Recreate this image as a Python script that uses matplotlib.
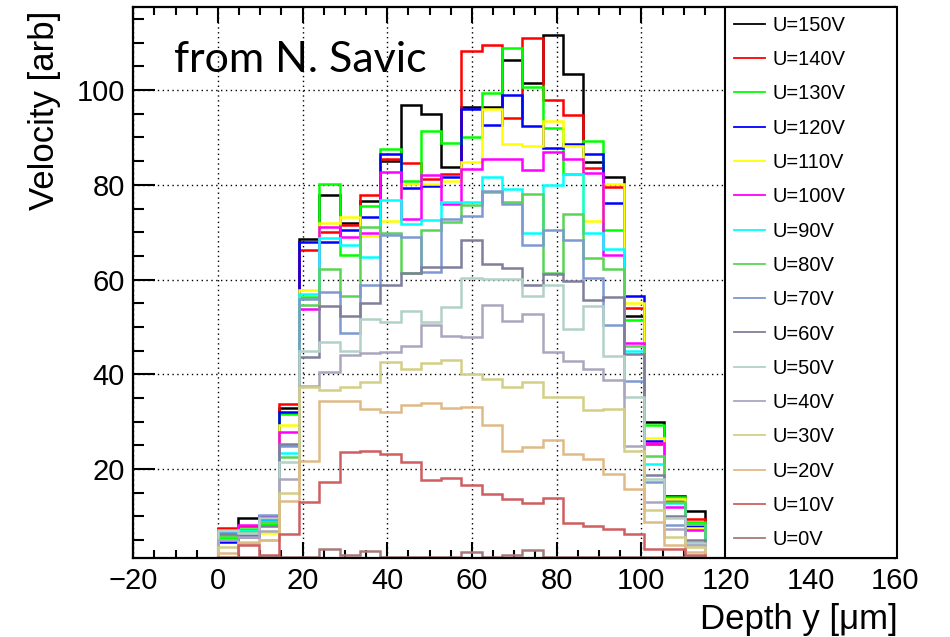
import numpy as np
import matplotlib
matplotlib.use("Agg")
import matplotlib.pyplot as plt
from matplotlib.lines import Line2D
from matplotlib.ticker import MultipleLocator

# 24 bins between 0 and 115 um
edges = np.linspace(0, 115, 25)

labels = ["U=150V", "U=140V", "U=130V", "U=120V", "U=110V", "U=100V", "U=90V", "U=80V",
          "U=70V", "U=60V", "U=50V", "U=40V", "U=30V", "U=20V", "U=10V", "U=0V"]

u150 = [7.3, 9.6, 10.0, 33.0, 68.6, 77.8, 72.0, 76.5, 85.0, 96.8, 95.0, 83.8,
        96.4, 96.5, 106.4, 101.4, 111.7, 103.3, 84.8, 81.6, 52.4, 29.9, 14.3, 11.1]
u140 = [7.6, 8.0, 9.5, 33.8, 66.3, 70.0, 71.6, 77.9, 85.5, 84.6, 81.2, 82.3,
        108.2, 109.6, 94.1, 111.0, 97.9, 94.8, 83.5, 79.5, 54.0, 25.2, 13.2, 9.5]
u130 = [5.4, 7.3, 8.5, 31.7, 56.4, 80.2, 65.1, 75.6, 87.6, 80.9, 91.4, 88.8,
        90.2, 99.4, 108.8, 100.6, 92.0, 82.3, 89.3, 70.4, 51.5, 29.4, 14.1, 8.8]
u120 = [4.6, 6.0, 9.4, 32.0, 67.9, 68.0, 70.4, 73.3, 86.6, 79.4, 79.8, 81.6,
        95.9, 92.6, 98.9, 92.4, 87.7, 88.6, 86.6, 76.1, 56.5, 26.0, 13.5, 8.0]
u110 = [6.0, 6.5, 6.6, 29.4, 57.8, 71.9, 73.3, 69.2, 72.3, 80.2, 80.2, 80.8,
        84.9, 95.9, 88.7, 88.2, 93.4, 88.3, 72.4, 80.1, 55.1, 26.5, 13.7, 7.5]
u100 = [6.5, 8.2, 9.8, 27.8, 53.7, 71.2, 69.0, 69.8, 82.7, 72.7, 82.0, 76.0,
        83.3, 85.5, 85.4, 83.2, 87.0, 85.5, 82.4, 65.2, 46.7, 25.5, 12.0, 7.2]
u90 = [6.8, 7.0, 9.0, 23.5, 57.0, 68.8, 67.3, 64.7, 76.8, 71.8, 72.6, 76.3,
       76.3, 81.7, 79.2, 69.8, 80.0, 82.3, 69.8, 66.5, 45.0, 21.0, 12.8, 8.5]
u80 = [5.8, 6.8, 8.8, 22.5, 54.7, 62.3, 56.5, 71.2, 69.8, 61.4, 70.4, 72.1,
       75.7, 78.4, 76.3, 78.1, 61.4, 73.8, 64.5, 62.3, 45.9, 22.7, 13.0, 8.5]
u70 = [6.6, 6.2, 10.3, 24.9, 56.0, 57.3, 48.7, 58.8, 69.4, 68.9, 61.6, 72.8,
       73.5, 78.6, 76.0, 67.3, 70.5, 68.4, 60.3, 50.5, 38.5, 17.3, 8.1, 4.5]
u60 = [6.2, 5.7, 8.0, 25.4, 43.7, 54.5, 52.3, 55.1, 58.9, 61.4, 62.6, 62.6,
       68.3, 63.2, 62.5, 58.8, 61.2, 59.6, 55.6, 56.3, 44.3, 18.8, 10.0, 5.0]
u50 = [7.1, 6.5, 9.6, 21.5, 45.0, 46.9, 45.0, 51.6, 51.0, 53.3, 51.0, 54.2,
       60.4, 60.2, 60.2, 56.5, 58.9, 49.6, 54.5, 43.8, 35.3, 18.0, 9.7, 4.5]
u40 = [5.0, 5.6, 7.0, 18.0, 37.5, 40.5, 44.0, 44.5, 44.7, 45.9, 50.4, 48.1,
       47.8, 54.7, 51.2, 52.8, 44.8, 42.8, 41.2, 38.9, 24.8, 13.0, 7.4, 3.9]
u30 = [3.6, 4.6, 5.0, 15.0, 37.3, 36.6, 37.3, 38.4, 42.7, 41.2, 42.4, 43.0,
       40.1, 39.1, 37.3, 38.3, 35.3, 35.3, 32.4, 32.7, 23.8, 11.3, 5.7, 3.5]
u20 = [2.3, 4.5, 5.0, 13.2, 21.8, 34.3, 34.3, 32.7, 32.0, 33.6, 33.9, 32.9,
       33.2, 29.4, 23.9, 24.6, 26.2, 23.1, 22.2, 19.0, 15.7, 8.8, 3.9, 2.5]
u10 = [1.2, 3.9, 1.8, 6.4, 13.0, 17.3, 23.6, 23.8, 23.2, 21.5, 17.8, 18.2,
       16.7, 14.8, 13.6, 12.8, 13.9, 8.6, 7.9, 7.4, 6.4, 3.2, 3.1, 1.8]
u0 = [1.4, 1.4, 1.4, 1.4, 1.4, 3.1, 1.8, 2.8, 1.5, 1.4, 1.4, 1.4,
      2.5, 1.5, 1.9, 3.0, 1.4, 1.4, 1.4, 1.4, 1.4, 1.4, 1.4, 1.4]

colors = ["#000000", "#ff0000", "#00ff00", "#0000ff", "#ffff00", "#ff00ff", "#00ffff", "#59d454",
          "#7d99d1", "#7f7f9c", "#b3d1c7", "#aba6bf", "#d4cf87", "#deba87", "#cf5e61", "#a67a7a"]


def main():
    plt.rcParams['font.family'] = ['Liberation Sans', 'DejaVu Sans']

    series = [u150, u140, u130, u120, u110, u100, u90, u80,
              u70, u60, u50, u40, u30, u20, u10, u0]

    fig = plt.figure(figsize=(9.5, 6.37), dpi=100)
    ax = fig.add_axes([0.1403, 0.1245, 0.8022, 0.865])

    for vals, c in zip(series, colors):
        ax.stairs(vals, edges, baseline=0, color=c, lw=1.8)

    ax.set_xlim(-20, 160)
    ax.set_ylim(1.3, 117.6)
    ax.xaxis.set_major_locator(MultipleLocator(20))
    ax.xaxis.set_minor_locator(MultipleLocator(5))
    ax.yaxis.set_major_locator(MultipleLocator(20))
    ax.yaxis.set_minor_locator(MultipleLocator(5))
    ax.set_yticks([20, 40, 60, 80, 100])

    ax.grid(True, which='major', color='black', linestyle=(0, (1, 2.5)), lw=1.0)
    ax.set_axisbelow(True)

    ax.tick_params(axis='both', which='both', direction='in', top=True, right=False,
                   labelsize=21, width=1.5)
    ax.tick_params(axis='x', which='major', length=11.5, pad=7)
    ax.tick_params(axis='x', which='minor', length=5.8)
    ax.tick_params(axis='y', which='major', length=16, pad=6)
    ax.tick_params(axis='y', which='minor', length=8)
    for s in ax.spines.values():
        s.set_linewidth(1.6)

    fig.text(45 / 950, 1 - 11 / 637, "Velocity [arb]", rotation=90,
             ha='center', va='top', fontsize=25)
    fig.text(898 / 950, 1 - 620 / 637, "Depth y [\u03bcm]", ha='right', va='center', fontsize=25)

    fig.text(174 / 950, 1 - 72 / 637, "from N. Savic", fontsize=31, family='Lato',
             ha='left', va='baseline')

    handles = [Line2D([], [], color=c, lw=1.3) for c in colors]
    leg = ax.legend(handles, labels, loc='upper left', bbox_to_anchor=(0.7764, 0.0, 0.2257, 1.0),
                    mode='expand', borderaxespad=0, fontsize=14.5, labelspacing=0.76,
                    borderpad=0.45, handlelength=1.55, handletextpad=0.36,
                    fancybox=False, framealpha=1, edgecolor='black')
    leg.get_frame().set_linewidth(1.5)
    leg.set_zorder(10)

    fig.savefig("out.png", dpi=100)


if __name__ == "__main__":
    main()
